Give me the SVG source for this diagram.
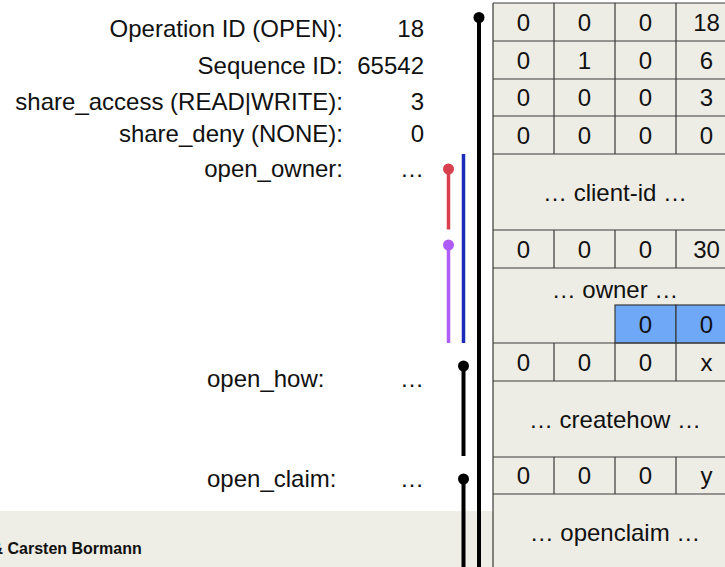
<svg xmlns="http://www.w3.org/2000/svg" width="725" height="567" viewBox="0 0 725 567">
<style>
  .t { font-family: "Liberation Sans", Arial, Helvetica, sans-serif; font-size: 24px; fill: #111; }
  .e { text-anchor: end; }
  .m { text-anchor: middle; }
  .grid { stroke: #3a3a3a; stroke-width: 1.2; fill: none; }
  .cell { fill: #EEEDE5; }
  .blue { fill: #70A8F8; stroke: #3a3a3a; stroke-width: 1.2; }
  .foot { font-family: "Liberation Sans", Arial, Helvetica, sans-serif; font-size: 16px; font-weight: bold; fill: #111; }
</style>
<rect width="725" height="567" fill="#ffffff"/>
<g id="footer">
  <rect x="0" y="511" width="495" height="56" fill="#EEEDE6"/>
  <text class="foot" x="-8.5" y="554">&amp; Carsten Bormann</text>
</g>
<g id="labels">
  <text class="t e" x="343" y="37">Operation ID (OPEN):</text>
  <text class="t e" x="424" y="37">18</text>
  <text class="t e" x="343" y="73.5">Sequence ID:</text>
  <text class="t e" x="424" y="73.5">65542</text>
  <text class="t e" x="343" y="109.5">share_access (READ|WRITE):</text>
  <text class="t e" x="424" y="109.5">3</text>
  <text class="t e" x="343" y="141.5">share_deny (NONE):</text>
  <text class="t e" x="424" y="141.5">0</text>
  <text class="t e" x="343" y="176.5">open_owner:</text>
  <text class="t e" x="424" y="176.5">…</text>
  <text class="t" x="207" y="387">open_how:</text>
  <text class="t e" x="424" y="387">…</text>
  <text class="t" x="207" y="487">open_claim:</text>
  <text class="t e" x="424" y="487">…</text>
</g>
<g id="table">
  <rect class="cell" x="493" y="3" width="250" height="570"/>
  <rect class="blue" x="615" y="305" width="61" height="38"/>
  <rect class="blue" x="676" y="305" width="61" height="38"/>
  <path class="grid" d="M493,3 V567 M493,3 H740 M493,41 H740 M493,79 H740 M493,116 H740 M493,154 H740 M493,230 H740 M493,268 H740 M493,343 H740 M493,381 H740 M493,457 H740 M493,494 H740
    M554,3 V154 M615,3 V154 M676,3 V154
    M554,230 V268 M615,230 V268 M676,230 V268
    M554,343 V381 M615,343 V381 M676,343 V381
    M554,457 V494 M615,457 V494 M676,457 V494"/>
  <g id="row0">
    <text class="t m" x="523.5" y="30.5">0</text><text class="t m" x="584.5" y="30.5">0</text><text class="t m" x="645.5" y="30.5">0</text><text class="t m" x="706.5" y="30.5">18</text>
  </g>
  <g id="row1">
    <text class="t m" x="523.5" y="68.5">0</text><text class="t m" x="584.5" y="68.5">1</text><text class="t m" x="645.5" y="68.5">0</text><text class="t m" x="706.5" y="68.5">6</text>
  </g>
  <g id="row2">
    <text class="t m" x="523.5" y="106">0</text><text class="t m" x="584.5" y="106">0</text><text class="t m" x="645.5" y="106">0</text><text class="t m" x="706.5" y="106">3</text>
  </g>
  <g id="row3">
    <text class="t m" x="523.5" y="143.5">0</text><text class="t m" x="584.5" y="143.5">0</text><text class="t m" x="645.5" y="143.5">0</text><text class="t m" x="706.5" y="143.5">0</text>
  </g>
  <g id="clientid"><text class="t m" x="615" y="200.5">… client-id …</text></g>
  <g id="row30">
    <text class="t m" x="523.5" y="257.5">0</text><text class="t m" x="584.5" y="257.5">0</text><text class="t m" x="645.5" y="257.5">0</text><text class="t m" x="706.5" y="257.5">30</text>
  </g>
  <g id="owner">
    <text class="t m" x="615" y="298">… owner …</text>
    <text class="t m" x="645.5" y="332.5">0</text><text class="t m" x="706.5" y="332.5">0</text>
  </g>
  <g id="rowx">
    <text class="t m" x="523.5" y="370.5">0</text><text class="t m" x="584.5" y="370.5">0</text><text class="t m" x="645.5" y="370.5">0</text><text class="t m" x="706.5" y="370.5">x</text>
  </g>
  <g id="createhow"><text class="t m" x="615" y="427.5">… createhow …</text></g>
  <g id="rowy">
    <text class="t m" x="523.5" y="484">0</text><text class="t m" x="584.5" y="484">0</text><text class="t m" x="645.5" y="484">0</text><text class="t m" x="706.5" y="484">y</text>
  </g>
  <g id="openclaim"><text class="t m" x="615" y="541">… openclaim …</text></g>
</g>
<g id="connectors">
  <line x1="479" y1="17.5" x2="479" y2="567" stroke="#000" stroke-width="4"/>
  <circle cx="479" cy="17.5" r="5.5" fill="#000"/>
  <line x1="448.5" y1="169" x2="448.5" y2="229.5" stroke="#D8404E" stroke-width="3.5"/>
  <circle cx="448.5" cy="169" r="5.5" fill="#D8404E"/>
  <line x1="448.5" y1="245" x2="448.5" y2="343" stroke="#AD5CF7" stroke-width="3.5"/>
  <circle cx="448.5" cy="245" r="5.5" fill="#AD5CF7"/>
  <line x1="463.5" y1="154" x2="463.5" y2="343" stroke="#1B2DB8" stroke-width="3.5"/>
  <line x1="463.5" y1="366" x2="463.5" y2="456" stroke="#000" stroke-width="4"/>
  <circle cx="463.5" cy="366" r="5.5" fill="#000"/>
  <line x1="463.5" y1="479" x2="463.5" y2="567" stroke="#000" stroke-width="4"/>
  <circle cx="463.5" cy="479" r="5.5" fill="#000"/>
</g>
</svg>
